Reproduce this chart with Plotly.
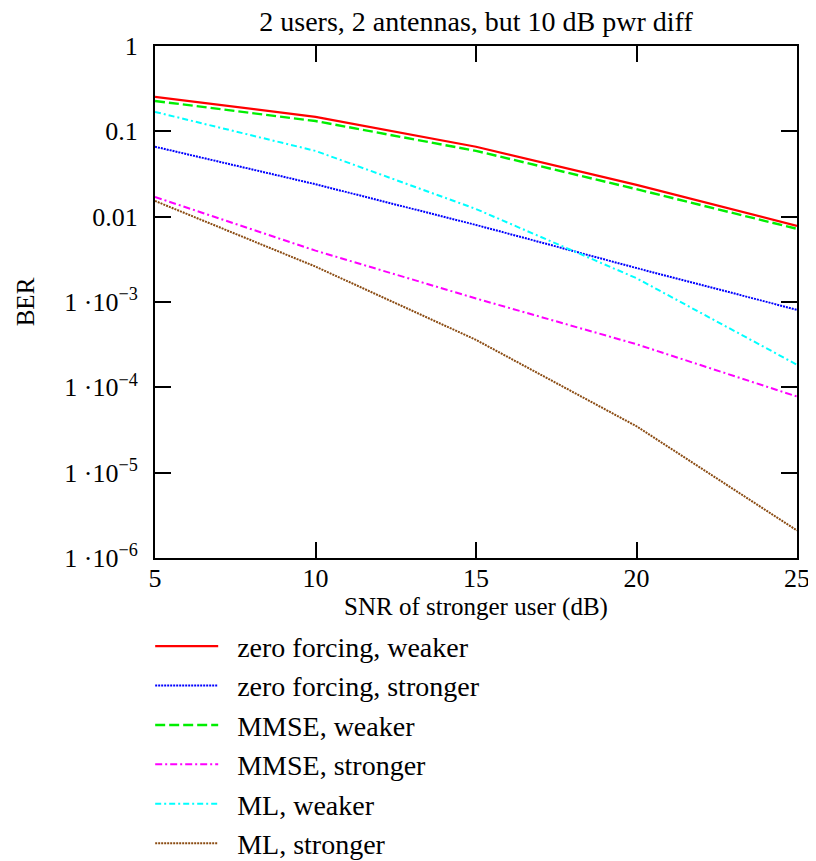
import plotly.graph_objects as go

# SNR of stronger user (dB)
snr = [5, 10, 15, 20, 25]

# BER
zf_weaker = [0.253, 0.148, 0.066, 0.0236, 0.0078]
zf_stronger = [0.066, 0.024, 0.0080, 0.0025, 8.1e-4]
mmse_weaker = [0.227, 0.132, 0.059, 0.021, 0.0072]
mmse_stronger = [0.017, 0.0040, 0.0011, 3.2e-4, 7.8e-5]
ml_weaker = [0.169, 0.059, 0.0123, 0.0019, 1.84e-4]
ml_stronger = [0.0153, 0.0026, 3.6e-4, 3.5e-5, 2.1e-6]

ytick_vals = [1, 0.1, 0.01, 1e-3, 1e-4, 1e-5, 1e-6]
ytick_text = ["1", "0.1", "0.01",
              "1 \u00b710<sup>\u22123</sup>", "1 \u00b710<sup>\u22124</sup>",
              "1 \u00b710<sup>\u22125</sup>", "1 \u00b710<sup>\u22126</sup>"]
xtick_vals = [5, 10, 15, 20, 25]

FONT = "Liberation Serif, Times New Roman, serif"

series = [
    ("zero forcing, weaker", zf_weaker, "#ff0000", "solid", 2.2),
    ("zero forcing, stronger", zf_stronger, "#0000ff", "2px,1px", 2.0),
    ("MMSE, weaker", mmse_weaker, "#00ee00", "10px,4px", 2.4),
    ("MMSE, stronger", mmse_stronger, "#ff00ff", "7px,3px,2px,3px", 2.0),
    ("ML, weaker", ml_weaker, "#00ffff", "6px,3px,2px,3px", 2.0),
    ("ML, stronger", ml_stronger, "#8b4c13", "2px,1px", 2.0),
]

fig = go.Figure()
for name, ys, col, dash, w in series:
    fig.add_trace(go.Scatter(
        x=snr, y=ys, mode="lines", name="\u2002" + name,
        line=dict(color=col, dash=dash, width=w),
    ))

axis_common = dict(
    showgrid=False, zeroline=False, automargin=False,
    showline=True, linecolor="black", linewidth=2, mirror="allticks",
    ticks="inside", ticklen=16, tickwidth=2, tickcolor="black",
    tickfont=dict(family=FONT, size=26, color="black"),
)

# the page body adds an 8px offset, so margins are trimmed by that much
fig.update_layout(
    width=816, height=861,
    paper_bgcolor="white", plot_bgcolor="white",
    margin=dict(l=147, r=27, t=38, b=311),
    font=dict(family=FONT, size=26, color="black"),
    title=dict(text="2 users, 2 antennas, but 10 dB pwr diff",
               x=0.5, xref="paper", xanchor="center",
               y=1, yref="container", yanchor="top", pad=dict(t=3),
               font=dict(family=FONT, size=28, color="black")),
    xaxis=dict(range=[5, 25], tickvals=xtick_vals, ticklabelstandoff=-4,
               title=dict(text="SNR of stronger user (dB)", standoff=60,
                          font=dict(family=FONT, size=25)),
               **axis_common),
    yaxis=dict(type="log", range=[-6, 0], tickvals=ytick_vals, ticktext=ytick_text,
               ticklabelstandoff=10,
               title=dict(text="BER", standoff=23, font=dict(family=FONT, size=25)),
               **axis_common),
    showlegend=True,
    legend=dict(x=-0.0075, xanchor="left", xref="paper",
                y=0.2875, yanchor="top", yref="container",
                bgcolor="rgba(0,0,0,0)", itemwidth=63, tracegroupgap=0,
                font=dict(family=FONT, size=28, color="black")),
)

fig.write_html("out.html")
